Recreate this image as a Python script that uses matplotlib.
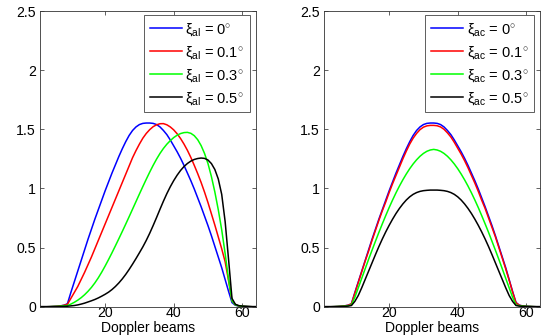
import numpy as np
import matplotlib
matplotlib.use("Agg")
import matplotlib.pyplot as plt

plt.rcParams['font.family'] = ['Liberation Sans', 'DejaVu Sans']
plt.rcParams['mathtext.fontset'] = 'custom'
plt.rcParams['mathtext.rm'] = 'Liberation Sans'
plt.rcParams['mathtext.it'] = 'Liberation Sans:italic'

# Doppler beam index 1..64
beams = list(range(1, 65))

# xi = 0 deg (same in both panels)
power_xi0 = [0, 0, 0, 0.001, 0.002, 0.004, 0.007, 0.012,
             0.025, 0.12, 0.21, 0.30, 0.39, 0.48, 0.57, 0.655,
             0.74, 0.82, 0.90, 0.98, 1.055, 1.13, 1.20, 1.27,
             1.335, 1.395, 1.448, 1.49, 1.52, 1.54, 1.55, 1.553,
             1.553, 1.55, 1.54, 1.52, 1.49, 1.455, 1.41, 1.36,
             1.31, 1.255, 1.195, 1.13, 1.065, 0.995, 0.92, 0.845,
             0.765, 0.685, 0.60, 0.51, 0.42, 0.33, 0.23, 0.13,
             0.035, 0.012, 0.006, 0.003, 0.002, 0.001, 0, 0]

# along-track error (left panel)
al_01 = [0, 0, 0, 0.001, 0.002, 0.004, 0.007, 0.012,
         0.02, 0.07, 0.12, 0.17, 0.23, 0.29, 0.355, 0.42,
         0.49, 0.56, 0.63, 0.70, 0.77, 0.84, 0.91, 0.98,
         1.05, 1.12, 1.19, 1.26, 1.32, 1.375, 1.425, 1.465,
         1.497, 1.522, 1.538, 1.547, 1.548, 1.538, 1.52, 1.495,
         1.462, 1.422, 1.375, 1.322, 1.262, 1.195, 1.125, 1.05,
         0.968, 0.88, 0.785, 0.69, 0.59, 0.49, 0.38, 0.22,
         0.05, 0.015, 0.007, 0.004, 0.002, 0.001, 0, 0]

al_03 = [0, 0, 0, 0.001, 0.002, 0.003, 0.005, 0.008,
         0.01, 0.022, 0.037, 0.055, 0.076, 0.101, 0.13, 0.163,
         0.201, 0.244, 0.292, 0.344, 0.399, 0.456, 0.515, 0.575,
         0.636, 0.698, 0.761, 0.825, 0.889, 0.953, 1.016, 1.078,
         1.138, 1.195, 1.248, 1.296, 1.338, 1.374, 1.404, 1.43,
         1.45, 1.464, 1.472, 1.474, 1.466, 1.446, 1.412, 1.362,
         1.295, 1.21, 1.10, 0.97, 0.82, 0.65, 0.45, 0.23,
         0.05, 0.015, 0.007, 0.004, 0.002, 0.001, 0, 0]

al_05 = [0, 0, 0, 0, 0.001, 0.001, 0.002, 0.003,
         0.004, 0.007, 0.01, 0.015, 0.022, 0.03, 0.04, 0.05,
         0.061, 0.074, 0.089, 0.105, 0.123, 0.145, 0.171, 0.201,
         0.235, 0.273, 0.315, 0.36, 0.407, 0.456, 0.506, 0.561,
         0.621, 0.686, 0.754, 0.824, 0.892, 0.956, 1.014, 1.066,
         1.112, 1.152, 1.185, 1.211, 1.231, 1.245, 1.253, 1.257,
         1.254, 1.24, 1.21, 1.16, 1.08, 0.95, 0.72, 0.40,
         0.07, 0.02, 0.009, 0.005, 0.003, 0.001, 0, 0]

# across-track error (right panel)
ac_01 = [0, 0, 0, 0.001, 0.002, 0.004, 0.007, 0.012,
         0.024, 0.115, 0.205, 0.295, 0.385, 0.47, 0.56, 0.645,
         0.73, 0.81, 0.885, 0.965, 1.04, 1.11, 1.18, 1.25,
         1.315, 1.375, 1.425, 1.465, 1.497, 1.518, 1.529, 1.533,
         1.533, 1.53, 1.52, 1.50, 1.47, 1.435, 1.39, 1.34,
         1.29, 1.235, 1.175, 1.11, 1.045, 0.975, 0.90, 0.83,
         0.75, 0.67, 0.59, 0.50, 0.41, 0.32, 0.225, 0.125,
         0.033, 0.012, 0.006, 0.003, 0.002, 0.001, 0, 0]

ac_03 = [0, 0, 0, 0.001, 0.002, 0.003, 0.005, 0.008,
         0.015, 0.08, 0.16, 0.24, 0.32, 0.40, 0.477, 0.553,
         0.628, 0.70, 0.77, 0.838, 0.902, 0.963, 1.02, 1.073,
         1.122, 1.167, 1.207, 1.242, 1.272, 1.296, 1.314, 1.325,
         1.33,
         1.325, 1.314, 1.296, 1.272, 1.242, 1.207, 1.167, 1.122,
         1.073, 1.02, 0.963, 0.902, 0.838, 0.77, 0.70, 0.628,
         0.553, 0.477, 0.40, 0.32, 0.24, 0.16, 0.08, 0.015,
         0.008, 0.005, 0.003, 0.002, 0.001, 0, 0]

ac_05 = [0, 0, 0, 0, 0.001, 0.002, 0.003, 0.005,
         0.01, 0.045, 0.095, 0.16, 0.23, 0.30, 0.37, 0.44,
         0.508, 0.572, 0.632, 0.688, 0.74, 0.788, 0.831, 0.869,
         0.902, 0.929, 0.95, 0.965, 0.975, 0.981, 0.984, 0.986,
         0.986,
         0.986, 0.984, 0.981, 0.975, 0.965, 0.95, 0.929, 0.902,
         0.869, 0.831, 0.788, 0.74, 0.688, 0.632, 0.572, 0.508,
         0.44, 0.37, 0.30, 0.23, 0.16, 0.095, 0.045, 0.01,
         0.005, 0.003, 0.002, 0.001, 0, 0, 0]

angles = ['0', '0.1', '0.3', '0.5']
colors = ['#0000ff', '#ff0000', '#00ff00', '#000000']
yticks = [0, 0.5, 1, 1.5, 2, 2.5]
yticklabels = ['0', '0.5', '1', '1.5', '2', '2.5']
xticks = [20, 40, 60]

fig = plt.figure(figsize=(5.42, 3.36), dpi=100)
ax1 = fig.add_axes([0.0738, 0.0872, 0.3985, 0.8800])
ax2 = fig.add_axes([0.5978, 0.0872, 0.3985, 0.8800])

panels = [(ax1, [power_xi0, al_01, al_03, al_05], 'al'),
          (ax2, [power_xi0, ac_01, ac_03, ac_05], 'ac')]

for ax, series, sub in panels:
    for vals, c, a in zip(series, colors, angles):
        ax.plot(beams, vals, color=c, lw=1.1,
                label=r'$\mathrm{\xi_{%s}}$ = %s$^{\circ}$' % (sub, a))
    ax.set_xlim(1, 64)
    ax.set_ylim(0, 2.5)
    ax.set_xticks(xticks)
    ax.set_yticks(yticks)
    ax.set_yticklabels(yticklabels)
    ax.tick_params(direction='in', top=True, right=True, length=3,
                   width=0.5, labelsize=10.2, colors='#222222',
                   labelcolor='black')
    ax.tick_params(axis='x', pad=-0.8)
    ax.tick_params(axis='y', pad=3)
    for sp in ax.spines.values():
        sp.set_linewidth(0.6)
        sp.set_color('#333333')
    ax.set_xlabel('Doppler beams', fontsize=10)
    ax.xaxis.set_label_coords(0.5, -0.049)
    leg = ax.legend(loc='upper right', bbox_to_anchor=(0.972, 0.986),
                    fontsize=10.5, handlelength=2.2, handletextpad=0.25,
                    labelspacing=0.42, borderpad=0.4, borderaxespad=0,
                    fancybox=False, framealpha=1)
    leg.get_frame().set_edgecolor('#444444')
    leg.get_frame().set_linewidth(0.6)

fig.savefig('out.png', dpi=100)
